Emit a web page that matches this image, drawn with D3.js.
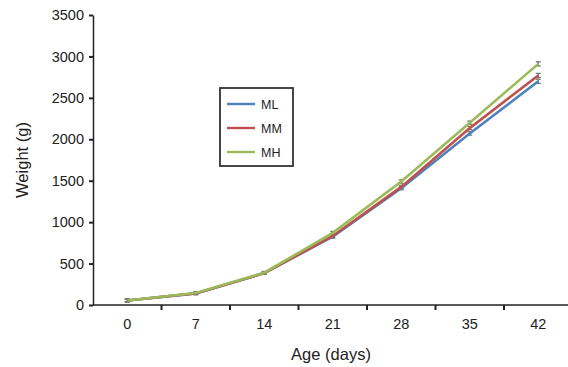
<!DOCTYPE html>
<html>
<head>
<meta charset="utf-8">
<script src="https://cdn.jsdelivr.net/npm/d3@7"></script>
<style>
  body { margin: 0; background: #fff; }
  svg text { font-family: "Liberation Sans", Arial, sans-serif; fill: #222; }
</style>
</head>
<body>
<div class="container"></div>
<script>
const w = 568, h = 367;

// data
const ages = [0, 7, 14, 21, 28, 35, 42];
const seriesNames = ["ML", "MM", "MH"];
const ML = [55, 140, 385, 825, 1410, 2070, 2700];
const MM = [55, 140, 385, 833, 1425, 2135, 2770];
const MH = [55, 145, 390, 870, 1490, 2200, 2910];
const errML = [18, 15, 15, 18, 20, 20, 25];
const errMM = [18, 15, 15, 18, 20, 20, 25];
const errMH = [18, 15, 15, 18, 20, 20, 25];
const yTicks = [0, 500, 1000, 1500, 2000, 2500, 3000, 3500];
const colors = ["#4f81bd", "#c0504d", "#9bbb59"];

const series = [
  { name: "ML", values: ML, err: errML },
  { name: "MM", values: MM, err: errMM },
  { name: "MH", values: MH, err: errMH },
];

const x0 = 93, yBottom = 305, yTop = 15;

const xScale = d3.scaleBand()
  .domain(ages)
  .range([x0, x0 + 7 * 68.5])
  .paddingInner(0).paddingOuter(0);

const yScale = d3.scaleLinear()
  .domain([0, 3500])
  .range([yBottom, yTop]);

const svg = d3.select(".container")
  .append("svg")
  .attr("width", w)
  .attr("height", h)
  .attr("viewBox", [0, 0, w, h]);

const cx = d => xScale(d) + xScale.bandwidth() / 2;

// y axis
const yAxis = svg.append("g")
  .attr("transform", `translate(${x0}, 0)`)
  .call(d3.axisLeft(yScale).tickValues(yTicks).tickFormat(d3.format("d"))
    .tickSize(4).tickSizeOuter(0).tickPadding(5));
yAxis.select(".domain").attr("stroke", "#222").attr("stroke-width", 1.5);
yAxis.selectAll(".tick line").attr("stroke", "#222").attr("stroke-width", 2);
yAxis.selectAll(".tick text").style("font-size", "14.5px");

// x axis: labels centred, ticks at the band edges
const xAxis = svg.append("g")
  .attr("transform", `translate(0, ${yBottom})`)
  .call(d3.axisBottom(xScale).tickSize(0).tickPadding(14));
xAxis.select(".domain").remove();
xAxis.selectAll(".tick text").style("font-size", "14.5px");
xAxis.append("line")
  .attr("x1", x0).attr("x2", w)
  .attr("stroke", "#222").attr("stroke-width", 1.5);
xAxis.selectAll(".edge")
  .data(ages.slice(0, 6))
  .join("line")
  .attr("class", "edge")
  .attr("x1", d => xScale(d) + xScale.step())
  .attr("x2", d => xScale(d) + xScale.step())
  .attr("y1", 0).attr("y2", 5)
  .attr("stroke", "#222").attr("stroke-width", 2);

// titles
svg.append("text")
  .attr("x", 331).attr("y", 360)
  .attr("text-anchor", "middle")
  .style("font-size", "16.5px")
  .text("Age (days)");

svg.append("text")
  .attr("transform", "translate(28, 160) rotate(-90)")
  .attr("text-anchor", "middle")
  .style("font-size", "16.5px")
  .text("Weight (g)");

// error bars
series.forEach(s => {
  const g = svg.append("g").attr("stroke", "#777").attr("stroke-width", 1.3);
  ages.forEach((a, i) => {
    const x = cx(a), hi = yScale(s.values[i] + s.err[i]), lo = yScale(s.values[i] - s.err[i]);
    g.append("line").attr("x1", x).attr("x2", x).attr("y1", hi).attr("y2", lo);
    g.append("line").attr("x1", x - 2.5).attr("x2", x + 2.5).attr("y1", hi).attr("y2", hi);
    g.append("line").attr("x1", x - 2.5).attr("x2", x + 2.5).attr("y1", lo).attr("y2", lo);
  });
});

// lines
const line = d3.line()
  .x((d, i) => cx(ages[i]))
  .y(d => yScale(d));

series.forEach((s, k) => {
  svg.append("path")
    .datum(s.values)
    .attr("fill", "none")
    .attr("stroke", colors[k])
    .attr("stroke-width", 2.6)
    .attr("d", line);
});

// legend
const legend = svg.append("g").attr("transform", "translate(220, 88)");
legend.append("rect")
  .attr("width", 73).attr("height", 78)
  .attr("fill", "#fff")
  .attr("stroke", "#333").attr("stroke-width", 1.8);
seriesNames.forEach((n, k) => {
  const y = 16 + k * 24;
  legend.append("line")
    .attr("x1", 7).attr("x2", 35).attr("y1", y).attr("y2", y)
    .attr("stroke", colors[k]).attr("stroke-width", 2.4);
  legend.append("text")
    .attr("x", 41).attr("y", y + 4.5)
    .style("font-size", "12.5px")
    .text(n);
});
</script>
</body>
</html>
